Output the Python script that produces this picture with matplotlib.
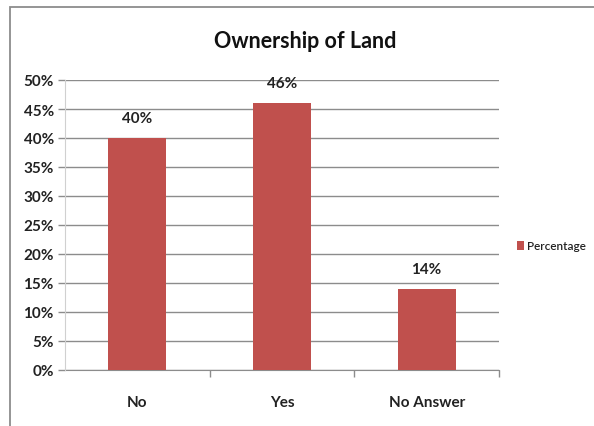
import matplotlib
matplotlib.use("Agg")
import matplotlib.pyplot as plt
from matplotlib.patches import Rectangle
from matplotlib.ticker import MultipleLocator, FuncFormatter
from matplotlib import font_manager

categories = ["No", "Yes", "No Answer"]
percentage = [40, 46, 14]
series_name = "Percentage"
title = "Ownership of Land"

fams = {f.name for f in font_manager.fontManager.ttflist}
family = [f for f in ["Lato", "DejaVu Sans"] if f in fams]
plt.rcParams["font.family"] = family

W, H = 594, 427
fig = plt.figure(figsize=(W / 100, H / 100), dpi=100)

# chart frame
fig.patches.append(Rectangle((10 / W, -0.1), 1.2, (H - 8) / H + 0.1,
                             transform=fig.transFigure, fill=False,
                             edgecolor="#8c8c8c", linewidth=1.3))

left, right, top, bottom = 65, 499, 81, 371
ax = fig.add_axes([left / W, 1 - bottom / H, (right - left) / W, (bottom - top) / H])

bar_color = "#C0504D"
x = range(len(categories))
bars = ax.bar(x, percentage, width=0.4, color=bar_color, label=series_name, zorder=3)
for xi, v in zip(x, percentage):
    ax.text(xi, v + 2.2, f"{v}%", ha="center", va="bottom", fontsize=11,
            fontweight="bold", color="#222222")

ax.set_xlim(-0.5, len(categories) - 0.5)
ax.set_ylim(0, 50)
ax.yaxis.set_major_locator(MultipleLocator(5))
ax.yaxis.set_major_formatter(FuncFormatter(lambda v, p: f"{int(v)}%"))
ax.grid(axis="y", color="#8c8c8c", linewidth=1.0, zorder=0)
ax.set_xticks(list(x))
ax.set_xticklabels(categories)
ax.set_xticks([i + 0.5 for i in range(len(categories))], minor=True)
ax.tick_params(axis="x", which="major", length=0, pad=18, labelsize=11)
ax.tick_params(axis="x", which="minor", length=5, color="#8c8c8c", width=1.0)
ax.tick_params(axis="y", length=5, color="#8c8c8c", width=1.0, labelsize=11, pad=3)
for lbl in ax.get_xticklabels() + ax.get_yticklabels():
    lbl.set_fontweight("bold")
    lbl.set_color("#222222")
for s in ["top", "right"]:
    ax.spines[s].set_visible(False)
ax.spines["left"].set_color("#d0d0d0")
ax.spines["bottom"].set_color("#8c8c8c")
ax.spines["left"].set_zorder(4)

fig.text(305 / W, 1 - 42 / H, title, ha="center", va="center", fontsize=15.5,
         fontweight="bold", color="#111111")

leg = fig.legend(handles=[bars], labels=[series_name], loc="center left",
                 bbox_to_anchor=(517 / W, 1 - 247 / H), frameon=False,
                 handlelength=0.6, handleheight=0.7, handletextpad=0.25,
                 borderpad=0, borderaxespad=0,
                 prop={"size": 8.5, "weight": "semibold"})
for t in leg.get_texts():
    t.set_color("#222222")

fig.savefig("out.png", dpi=100)
